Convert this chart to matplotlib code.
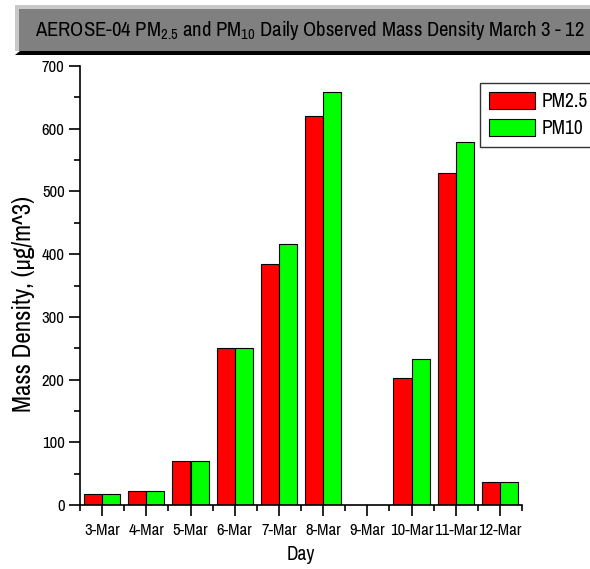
import matplotlib
matplotlib.use('Agg')
import matplotlib.pyplot as plt
import numpy as np
from matplotlib.patches import Rectangle, Polygon
from matplotlib.ticker import MultipleLocator, FixedLocator

# data
days = ['3-Mar', '4-Mar', '5-Mar', '6-Mar', '7-Mar', '8-Mar', '9-Mar', '10-Mar', '11-Mar', '12-Mar']
pm25 = [18, 22, 70, 250, 385, 620, 0, 203, 530, 36]
pm10 = [18, 22, 70, 251, 416, 659, 0, 233, 579, 36]

narrow = ['Archivo Narrow', 'Roboto Condensed', 'PT Sans Narrow', 'Liberation Sans', 'DejaVu Sans']
plt.rcParams['font.family'] = narrow
plt.rcParams['mathtext.fontset'] = 'custom'
plt.rcParams['mathtext.rm'] = 'Archivo Narrow'

fig = plt.figure(figsize=(5.90, 5.69), dpi=100)
W, H = 590, 569
r = fig.canvas.get_renderer()

def fx(px):
    return px / W
def fy(py):
    return 1 - py / H

def fit(txt, target, size, horizontal=True, cap=None):
    # scale font size so the text spans about `target` pixels
    bb = txt.get_window_extent(renderer=r)
    cur = bb.width if horizontal else bb.height
    new = size * target / cur
    if cap is not None:
        new = min(new, cap)
    txt.set_fontsize(new)
    return new

# title banner (grey box with light border and black shadow)
fig.patches.append(Polygon(
    [(fx(15), fy(55)), (fx(20), fy(51)), (fx(590), fy(51)), (fx(590), fy(55))],
    closed=True, transform=fig.transFigure, facecolor='black', edgecolor='none', zorder=0))
fig.patches.append(Rectangle((fx(15), fy(51)), fx(575), 46 / H,
    transform=fig.transFigure, facecolor='#c8c8c8', edgecolor='none', zorder=1))
fig.patches.append(Rectangle((fx(19), fy(51)), fx(571), 42 / H,
    transform=fig.transFigure, facecolor='#808080', edgecolor='none', zorder=2))
title = fig.text(fx(310), fy(30),
         r'AEROSE-04 PM$\mathregular{_{2.5}}$ and PM$\mathregular{_{10}}$ Daily Observed Mass Density March 3 - 12',
         ha='center', va='center', fontsize=14.5, color='black', zorder=3)
fit(title, 550, 14.5, cap=15.5)

ax = fig.add_axes([80 / W, 1 - 505 / H, (522 - 80) / W, (505 - 66) / H])

x = np.arange(len(days))
w = 0.41
ax.bar(x - w / 2, pm25, width=w, color='#ff0000', edgecolor='black', linewidth=0.8, label='PM2.5')
ax.bar(x + w / 2, pm10, width=w, color='#00ff00', edgecolor='black', linewidth=0.8, label='PM10')

ax.set_xlim(-0.5, len(days) - 0.5)
ax.set_ylim(0, 700)
ax.set_xticks(x)
ax.set_xticklabels(days)
ax.xaxis.set_minor_locator(FixedLocator(np.arange(-0.5, len(days), 1.0)))
ax.yaxis.set_major_locator(MultipleLocator(100))
ax.yaxis.set_minor_locator(MultipleLocator(50))

ax.spines['top'].set_visible(False)
ax.spines['right'].set_visible(False)
for s in ('left', 'bottom'):
    ax.spines[s].set_linewidth(1.2)

# tick label size chosen so '3-Mar' is about 36 px wide
probe = fig.text(0, 0, '3-Mar', fontsize=10)
tick_size = fit(probe, 36, 10, cap=12)
probe.remove()

ax.tick_params(axis='both', which='major', direction='out', length=8, width=1.2, labelsize=tick_size)
ax.tick_params(axis='both', which='minor', direction='out', length=4, width=1.2)
ax.tick_params(axis='x', pad=5)
ax.tick_params(axis='y', pad=3)

xl = ax.set_xlabel('Day', fontsize=14)
ax.xaxis.set_label_coords(0.5, -(555 - 505) / 439)
xl.set_va('center')
yl = ax.set_ylabel('Mass Density, (\u03bcg/m^3)', fontsize=16)
fit(yl, 232, 16, horizontal=False, cap=18)
ax.yaxis.set_label_coords((24 - 80) / 442, (505 - 304) / 439)
yl.set_va('center')

fig.legend(loc='upper left', bbox_to_anchor=(480 / W, 1 - 83 / H),
           fontsize=14, frameon=True, fancybox=False, edgecolor='black',
           handlelength=2.4, handleheight=1.0, borderpad=0.45, labelspacing=0.4,
           handletextpad=0.3, borderaxespad=0)

fig.savefig('out.png', dpi=100)
